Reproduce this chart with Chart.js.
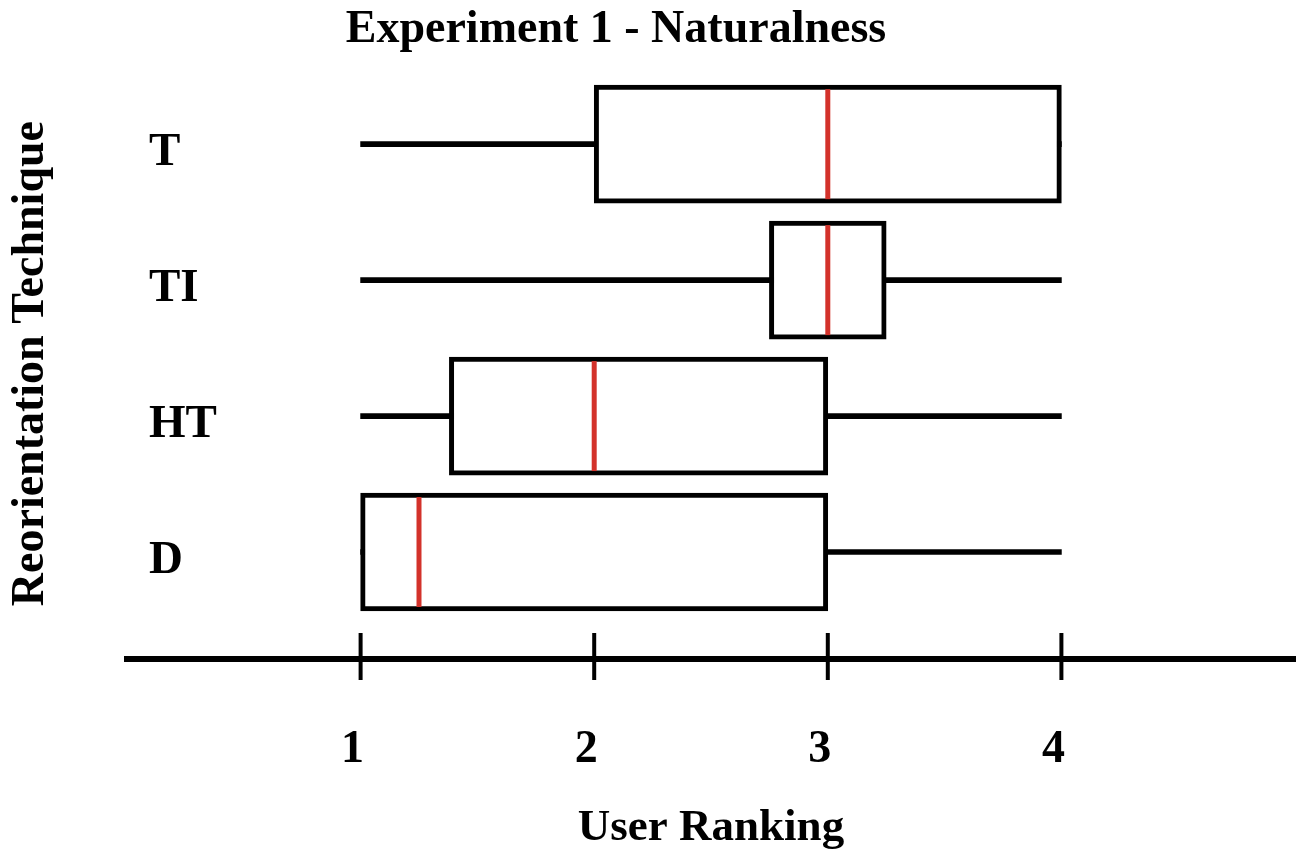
<!DOCTYPE html>
<html>
<head>
<meta charset="utf-8">
<script src="https://cdn.jsdelivr.net/npm/chart.js@4/dist/chart.umd.min.js"></script>
<style>
  html, body { margin: 0; padding: 0; background: #fff; }
  #wrap { width: 1306px; height: 857px; }
</style>
</head>
<body>
<div id="wrap"><canvas id="c" width="1306" height="857"></canvas></div>
<script>
// ---- data ----
const categories  = ['T', 'TI', 'HT', 'D'];
const whiskerMin  = [1, 1, 1, 1];
const q1Values    = [2, 2.75, 1.38, 1];
const medians     = [3, 3, 2, 1.25];
const q3Values    = [4, 3.25, 3, 3];
const whiskerMax  = [4, 4, 4, 4];
const xTickValues = [1, 2, 3, 4];

const chartTitle = 'Experiment 1 - Naturalness';
const xTitle = 'User Ranking';
const yTitle = 'Reorientation Technique';

// row positions on the vertical axis: first category at the top
const rowPos = categories.map((c, i) => categories.length - i);

const FONT = 'Liberation Serif';
const RED = '#d3322b';

const boxData = categories.map((c, i) => ({ x: [q1Values[i], q3Values[i]], y: rowPos[i] }));
const whiskerData = categories.map((c, i) => ({ x: [whiskerMin[i], whiskerMax[i]], y: rowPos[i] }));

const medianPlugin = {
  id: 'medianAndTicks',
  afterDatasetsDraw(chart) {
    const ctx = chart.ctx;
    const xs = chart.scales.x;
    const meta = chart.getDatasetMeta(0);
    ctx.save();
    ctx.strokeStyle = RED;
    ctx.lineWidth = 5;
    meta.data.forEach((bar, i) => {
      const px = xs.getPixelForValue(medians[i]);
      const h = bar.height;
      ctx.beginPath();
      ctx.moveTo(px, bar.y - h / 2 + 4);
      ctx.lineTo(px, bar.y + h / 2 - 4);
      ctx.stroke();
    });
    // tick crosses on the x axis
    const b = chart.chartArea.bottom;
    ctx.strokeStyle = '#000';
    ctx.lineWidth = 4;
    xs.ticks.forEach(t => {
      const px = xs.getPixelForValue(t.value);
      ctx.beginPath();
      ctx.moveTo(px, b - 26);
      ctx.lineTo(px, b + 21);
      ctx.stroke();
    });
    ctx.restore();
  }
};

new Chart(document.getElementById('c'), {
  type: 'bar',
  data: {
    datasets: [
      {
        label: 'box',
        data: boxData,
        backgroundColor: '#ffffff',
        borderColor: '#000000',
        borderWidth: 5,
        borderSkipped: false,
        barThickness: 118,
        grouped: false,
        order: 1
      },
      {
        label: 'whisker',
        data: whiskerData,
        backgroundColor: '#000000',
        borderWidth: 0,
        barThickness: 5,
        grouped: false,
        order: 2
      }
    ]
  },
  options: {
    indexAxis: 'y',
    responsive: false,
    animation: false,
    layout: { padding: { left: -63, right: 11, top: 0, bottom: 0 } },
    plugins: {
      legend: { display: false },
      tooltip: { enabled: false },
      title: {
        display: true,
        text: chartTitle,
        color: '#000',
        font: { family: FONT, size: 46, weight: 'bold', lineHeight: 1.2 },
        padding: { top: 3, bottom: 10 }
      }
    },
    scales: {
      x: {
        type: 'linear',
        position: 'bottom',
        min: 0,
        max: 5,
        afterBuildTicks: (s) => { s.ticks = xTickValues.map(v => ({ value: v })); },
        afterFit: (s) => { s.height = 198; },
        grid: { display: false, drawTicks: false },
        border: { display: true, color: '#000', width: 6 },
        ticks: {
          color: '#000',
          padding: 64,
          labelOffset: -8,
          font: { family: FONT, size: 46, weight: 'bold' },
          callback: (v) => String(v)
        },
        title: {
          display: true,
          text: xTitle,
          color: '#000',
          font: { family: FONT, size: 45, weight: 'bold', lineHeight: 1.2 },
          padding: { top: 0, bottom: 2 }
        }
      },
      y: {
        type: 'linear',
        position: 'left',
        offset: false,
        min: 0.213,
        max: 4.559,
        afterBuildTicks: (s) => { s.ticks = rowPos.map(v => ({ value: v })); },
        afterFit: (s) => { s.width = 190; },
        grid: { display: false, drawTicks: false, offset: false },
        border: { display: false },
        ticks: {
          mirror: true,
          padding: 22,
          labelOffset: 9,
          color: '#000',
          font: { family: FONT, size: 47, weight: 'bold' },
          callback: (v) => {
            const i = rowPos.indexOf(v);
            return i >= 0 ? categories[i] : '';
          }
        },
        title: {
          display: true,
          text: yTitle,
          color: '#000',
          font: { family: FONT, size: 46, weight: 'bold', lineHeight: 1.2 },
          padding: { top: 67, bottom: 0 }
        }
      }
    }
  },
  plugins: [medianPlugin]
});
</script>
</body>
</html>
